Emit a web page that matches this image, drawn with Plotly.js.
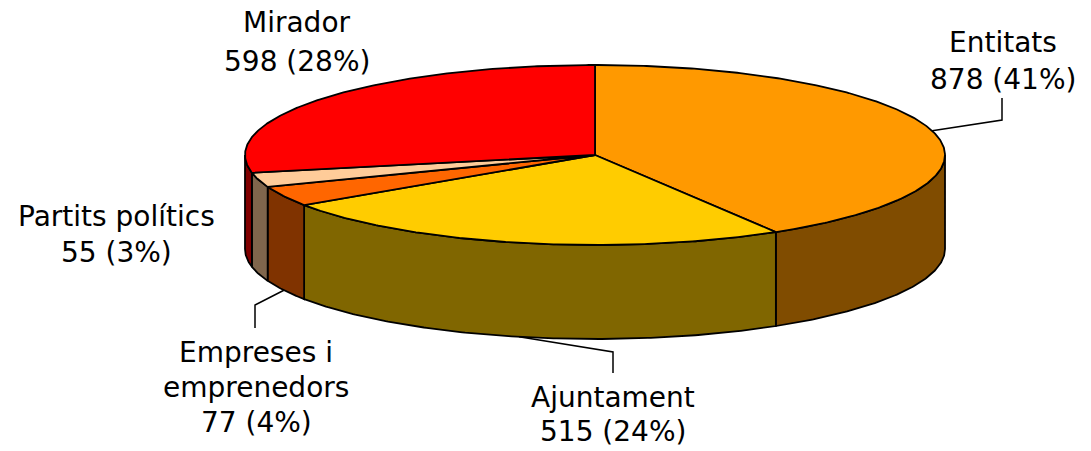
<!DOCTYPE html>
<html>
<head>
<meta charset="utf-8">
<script src="https://cdn.plot.ly/plotly-3.0.1.min.js"></script>
<style>html,body{margin:0;padding:0;background:#fff;}#chart{width:1091px;height:451px;}</style>
</head>
<body>
<div id="chart"></div>
<script>
// ---- data ----
const categories = ["Entitats", "Ajuntament", "Empreses i emprenedors", "Partits polítics", "Mirador"];
const labelLines = [["Entitats"], ["Ajuntament"], ["Empreses i", "emprenedors"], ["Partits polítics"], ["Mirador"]];
const values = [878, 515, 77, 55, 598];
const topColors = ["#FF9900", "#FFCC00", "#FF6600", "#FFCC99", "#FF0000"];
const sideColors = ["#804C00", "#806600", "#803300", "#80664C", "#800000"];

// ---- geometry / style (pixel space) ----
const G = {cx: 595, cy: 155, rx: 350, ry: 90, depth: 94};
// label placement: x centre, y of first line (cap middle), line step
const labelPos = [
  {x: 1003, y: 42, step: 37, leader: [[1002, 120], [1002, 98]]},
  {x: 613, y: 397, step: 34, leader: [[613, 352], [613, 373]]},
  {x: 256, y: 352, step: 35, leader: [[255, 305], [255, 328]]},
  {x: 116, y: 216, step: 36, leader: null},
  {x: 297, y: 22, step: 39, leader: null}
];

const total = values.reduce((a, b) => a + b, 0);
const rad = d => d * Math.PI / 180;
const px = a => G.cx + G.rx * Math.sin(rad(a));
const py = (a, dz) => G.cy - G.ry * Math.cos(rad(a)) + (dz || 0);

function arc(a0, a1, dz) {
  const n = Math.max(2, Math.ceil(Math.abs(a1 - a0) / 0.5));
  const xs = [], ys = [];
  for (let i = 0; i <= n; i++) {
    const a = a0 + (a1 - a0) * i / n;
    xs.push(px(a)); ys.push(py(a, dz));
  }
  return [xs, ys];
}

const angles = [];
let acc = 0;
values.forEach(v => { const a0 = acc / total * 360; acc += v; angles.push([a0, acc / total * 360]); });

const traces = [];
// side faces (front half only)
angles.forEach(([a0, a1], i) => {
  const s0 = Math.max(a0, 90), s1 = Math.min(a1, 270);
  if (s0 >= s1) return;
  const [tx, ty] = arc(s0, s1, 0);
  const [bx, by] = arc(s1, s0, G.depth);
  traces.push({
    type: 'scatter', mode: 'lines', x: tx.concat(bx, [tx[0]]), y: ty.concat(by, [ty[0]]),
    fill: 'toself', fillcolor: sideColors[i], line: {color: '#000', width: 1.8},
    hoverinfo: 'skip', showlegend: false
  });
});
// top faces
angles.forEach(([a0, a1], i) => {
  const [tx, ty] = arc(a0, a1, 0);
  traces.push({
    type: 'scatter', mode: 'lines', x: [G.cx].concat(tx, [G.cx]), y: [G.cy].concat(ty, [G.cy]),
    fill: 'toself', fillcolor: topColors[i], line: {color: '#000', width: 1.8},
    name: categories[i], hoverinfo: 'name', showlegend: false
  });
});

// leader lines
angles.forEach(([a0, a1], i) => {
  const L = labelPos[i].leader;
  if (!L) return;
  const m = (a0 + a1) / 2;
  const front = Math.cos(rad(m)) < 0;
  const ax = px(m), ay = py(m, front ? G.depth : 0);
  traces.push({
    type: 'scatter', mode: 'lines', x: [ax, L[0][0], L[1][0]], y: [ay, L[0][1], L[1][1]],
    line: {color: '#000', width: 1.5}, hoverinfo: 'skip', showlegend: false
  });
});

// labels
const annotations = [];
values.forEach((v, i) => {
  const lines = labelLines[i].concat([v + " (" + Math.round(v / total * 100) + "%)"]);
  const p = labelPos[i];
  lines.forEach((t, k) => {
    annotations.push({
      x: p.x, y: p.y + k * p.step, xref: 'x', yref: 'y', text: t, showarrow: false,
      xanchor: 'center', yanchor: 'middle',
      font: {family: 'DejaVu Sans, Verdana, sans-serif', size: 28, color: '#000'}
    });
  });
});

const layout = {
  width: 1091, height: 451, margin: {l: 0, r: 0, t: 0, b: 0},
  paper_bgcolor: '#fff', plot_bgcolor: '#fff',
  xaxis: {range: [0, 1091], visible: false, fixedrange: true},
  yaxis: {range: [451, 0], visible: false, fixedrange: true},
  annotations: annotations, showlegend: false
};
Plotly.newPlot('chart', traces, layout, {displayModeBar: false, staticPlot: true});
</script>
</body>
</html>
